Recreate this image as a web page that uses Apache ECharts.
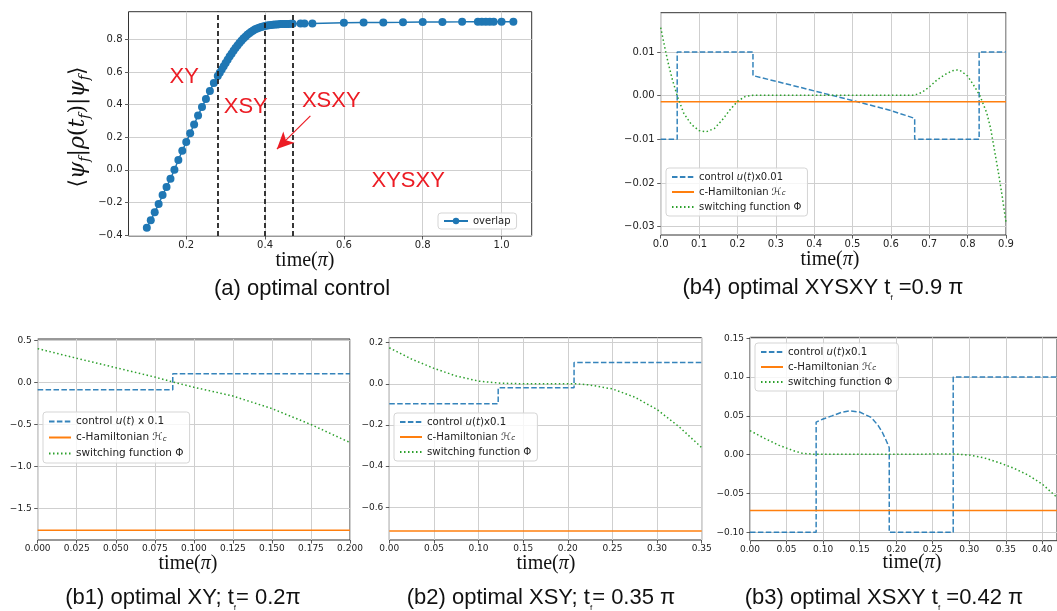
<!DOCTYPE html>
<html>
<head>
<meta charset="utf-8">
<title>optimal control</title>
<script src="https://cdn.jsdelivr.net/npm/echarts@6/dist/echarts.min.js"></script>
<style>
html, body { margin: 0; padding: 0; background: #fff; }
#main { width: 1057px; height: 611px; }
</style>
</head>
<body>
<div id="main"></div>
<script>
// (a) overlap <psi_f|rho(tf)|psi_f> against final time tf (units of pi)
var overlapT = [0.10, 0.11, 0.12, 0.13, 0.14, 0.15, 0.16, 0.17, 0.18, 0.19,
  0.20, 0.21, 0.22, 0.23, 0.24, 0.25, 0.26, 0.27, 0.28, 0.285,
  0.29, 0.295, 0.30, 0.305, 0.31, 0.315, 0.32, 0.325, 0.33, 0.335,
  0.34, 0.345, 0.35, 0.355, 0.36, 0.365, 0.37, 0.375, 0.38, 0.385,
  0.39, 0.395, 0.40, 0.405, 0.41, 0.415, 0.42, 0.425, 0.43, 0.435,
  0.44, 0.445, 0.45, 0.455, 0.46, 0.465, 0.47, 0.49, 0.50, 0.52,
  0.60, 0.65, 0.70, 0.75, 0.80, 0.85, 0.90, 0.94, 0.95, 0.96,
  0.97, 0.98, 1.00, 1.03]
var overlapVal = [-0.355, -0.31, -0.26, -0.21, -0.155, -0.105, -0.055, 0.0, 0.06, 0.117,
  0.17, 0.225, 0.278, 0.333, 0.385, 0.434, 0.484, 0.533, 0.575, 0.595,
  0.615, 0.635, 0.655, 0.675, 0.695, 0.712, 0.730, 0.748, 0.763, 0.778,
  0.792, 0.805, 0.817, 0.828, 0.838, 0.847, 0.855, 0.862, 0.867, 0.872,
  0.876, 0.879, 0.882, 0.885, 0.887, 0.889, 0.890, 0.891, 0.892, 0.893,
  0.894, 0.894, 0.895, 0.895, 0.895, 0.896, 0.896, 0.897, 0.897, 0.898,
  0.902, 0.903, 0.904, 0.905, 0.907, 0.907, 0.908, 0.909, 0.909, 0.909,
  0.909, 0.909, 0.909, 0.909]
// borders between the XY / XSY / XSXY / XYSXY regions
var switchTimes = [0.28, 0.40, 0.47]
var aXTicks = [0.2, 0.4, 0.6, 0.8, 1.0]
var aYTicks = [-0.4, -0.2, 0.0, 0.2, 0.4, 0.6, 0.8]

// (b1) XY, tf = 0.2 pi
var b1CtrlT = [0, 0.0865, 0.0865, 0.2]
var b1Ctrl = [-0.085, -0.085, 0.105, 0.105]
var b1HamT = [0, 0.2]
var b1Ham = [-1.762, -1.762]
var b1PhiT = [0, 0.025, 0.05, 0.075, 0.088, 0.1, 0.125, 0.15, 0.175, 0.2]
var b1Phi = [0.405, 0.29, 0.178, 0.066, 0.0, -0.055, -0.16, -0.31, -0.50, -0.715]
var b1XTicks = [0, 0.025, 0.05, 0.075, 0.1, 0.125, 0.15, 0.175, 0.2]
var b1YTicks = [-1.5, -1.0, -0.5, 0.0, 0.5]

// (b2) XSY, tf = 0.35 pi
var b2CtrlT = [0, 0.122, 0.122, 0.207, 0.207, 0.35]
var b2Ctrl = [-0.097, -0.097, -0.019, -0.019, 0.103, 0.103]
var b2HamT = [0, 0.35]
var b2Ham = [-0.715, -0.715]
var b2PhiT = [0, 0.025, 0.05, 0.075, 0.1, 0.125, 0.15, 0.2, 0.21, 0.225, 0.25, 0.275, 0.3, 0.325, 0.35]
var b2Phi = [0.175, 0.12, 0.075, 0.038, 0.013, 0.003, 0.0, 0.0, 0.0, -0.006, -0.025, -0.065, -0.125, -0.21, -0.31]
var b2XTicks = [0, 0.05, 0.1, 0.15, 0.2, 0.25, 0.3, 0.35]
var b2YTicks = [-0.6, -0.4, -0.2, 0.0, 0.2]

// (b3) XSXY, tf = 0.42 pi
var b3CtrlT = [0, 0.0905, 0.0905, 0.10, 0.112, 0.125, 0.137, 0.15, 0.166, 0.175, 0.181, 0.186, 0.1905, 0.1905, 0.278, 0.278, 0.42]
var b3Ctrl = [-0.1, -0.1, 0.042, 0.046, 0.050, 0.0545, 0.0565, 0.055, 0.048, 0.038, 0.029, 0.019, 0.009, -0.1, -0.1, 0.1, 0.1]
var b3HamT = [0, 0.42]
var b3Ham = [-0.072, -0.072]
var b3PhiT = [0, 0.02, 0.04, 0.05, 0.06, 0.072, 0.09, 0.2, 0.28, 0.30, 0.32, 0.34, 0.36, 0.38, 0.40, 0.42]
var b3Phi = [0.031, 0.021, 0.012, 0.0085, 0.005, 0.0017, 0.0005, 0.0005, 0.001, -0.0005, -0.004, -0.010, -0.017, -0.026, -0.038, -0.055]
var b3XTicks = [0, 0.05, 0.1, 0.15, 0.2, 0.25, 0.3, 0.35, 0.4]
var b3YTicks = [-0.10, -0.05, 0.0, 0.05, 0.10, 0.15]

// (b4) XYSXY, tf = 0.9 pi
var b4CtrlT = [0, 0.043, 0.043, 0.2405, 0.2405, 0.30, 0.40, 0.50, 0.60, 0.662, 0.662, 0.830, 0.830, 0.9]
var b4Ctrl = [-0.01, -0.01, 0.01, 0.01, 0.0046, 0.0033, 0.0011, -0.0011, -0.0034, -0.0052, -0.01, -0.01, 0.01, 0.01]
var b4HamT = [0, 0.9]
var b4Ham = [-0.0014, -0.0014]
var b4PhiT = [0, 0.01, 0.02, 0.03, 0.043, 0.06, 0.08, 0.10, 0.118, 0.14, 0.16, 0.18, 0.20, 0.22, 0.24, 0.30,
  0.66, 0.68, 0.70, 0.72, 0.74, 0.76, 0.77, 0.78, 0.80, 0.82, 0.832, 0.85, 0.86, 0.87, 0.88, 0.89, 0.90]
var b4Phi = [0.0156, 0.0113, 0.0073, 0.0038, 0.0, -0.0040, -0.0066, -0.0080, -0.0083, -0.0075, -0.0056, -0.0033, -0.0013, -0.0002, 0.0001, 0.0001,
  0.0001, 0.0007, 0.0020, 0.0036, 0.0048, 0.0057, 0.0059, 0.0058, 0.0045, 0.0018, 0.0, -0.0040, -0.0075, -0.0125, -0.0175, -0.0230, -0.0290]
var b4XTicks = [0, 0.1, 0.2, 0.3, 0.4, 0.5, 0.6, 0.7, 0.8, 0.9]
var b4YTicks = [-0.03, -0.02, -0.01, 0.0, 0.01]

var BLUE = '#1f77b4'
var ORANGE = '#ff7f0e'
var GREEN = '#2ca02c'
var RED = '#ec1c24'
var NAME_H = 'c-Hamiltonian ℋc'
var NAME_PHI = 'switching function Φ'

function zip (xs, ys) {
  return xs.map(function (x, i) { return [x, ys[i]] })
}

// tick label text the way matplotlib prints it (unicode minus)
function fmt (digits) {
  return function (v) {
    if (Math.abs(v) < 1e-9) v = 0
    var s = v.toFixed(digits)
    return s.charAt(0) === '-' ? '\u2212' + s.slice(1) : s
  }
}

function axis (grid, min, max, ticks, digits, size, isY) {
  return {
    type: 'value',
    gridIndex: grid,
    min: min,
    max: max,
    axisLine: {show: false, onZero: false},
    axisTick: {show: true, length: 3.5, customValues: ticks, lineStyle: {color: '#333', width: 0.8}},
    axisLabel: {
      customValues: ticks,
      formatter: fmt(digits),
      fontSize: size,
      fontFamily: 'DejaVu Sans',
      color: '#222',
      margin: isY ? 6 : 4
    },
    splitLine: {show: true, lineStyle: {color: '#cfcfcf', width: 1}}
  }
}

function grid (left, top, width, height) {
  return {left: left, top: top, width: width, height: height, show: true, borderColor: '#333', borderWidth: 1}
}

// the three curves of one (b) panel
function panelSeries (idx, ctrlName, ctrl, ham, phi) {
  var base = {type: 'line', xAxisIndex: idx, yAxisIndex: idx, symbol: 'none', animation: false, silent: true}
  return [
    Object.assign({}, base, {name: ctrlName, data: ctrl, color: BLUE, lineStyle: {color: BLUE, width: 1.5, type: [5.5, 2.4], opacity: 0.9}}),
    Object.assign({}, base, {name: NAME_H, data: ham, color: ORANGE, lineStyle: {color: ORANGE, width: 1.5}}),
    Object.assign({}, base, {name: NAME_PHI, data: phi, color: GREEN, lineStyle: {color: GREEN, width: 1.5, type: [1.5, 2.5]}})
  ]
}

function panelLegend (left, top, ctrlName, size) {
  return {
    left: left,
    top: top,
    orient: 'vertical',
    selectedMode: false,
    data: [ctrlName, NAME_H, NAME_PHI],
    itemWidth: 22,
    itemHeight: 10,
    itemGap: 5,
    padding: [4, 6, 4, 5],
    backgroundColor: 'rgba(255,255,255,0.8)',
    borderColor: '#d5d5d5',
    borderWidth: 1,
    borderRadius: 3,
    // line only, no marker in the key
    itemStyle: {opacity: 0},
    formatter: function (name) {
      return name.replace('u(t)', '{i|u}({i|t})').replace('ℋc', '{i|ℋ}{s|c}')
    },
    textStyle: {
      fontSize: size,
      fontFamily: 'DejaVu Sans',
      color: '#222',
      rich: {
        i: {fontSize: size, fontStyle: 'italic', fontFamily: 'DejaVu Sans', color: '#222'},
        s: {fontSize: size * 0.7, fontStyle: 'italic', fontFamily: 'DejaVu Sans', color: '#222', verticalAlign: 'bottom', lineHeight: size * 0.9}
      }
    }
  }
}

var captionRich = {
  n: {fontSize: 22, fontFamily: 'Liberation Sans', fill: '#111', lineHeight: 28},
  s: {fontSize: 8, fontFamily: 'Liberation Sans', fill: '#111', verticalAlign: 'bottom', lineHeight: 16}
}
var timeRich = {
  r: {fontSize: 20, fontFamily: 'Liberation Serif', fill: '#111'},
  p: {fontSize: 20, fontFamily: 'Liberation Serif', fontStyle: 'italic', fill: '#111'}
}

function label (x, y, text, rich, rotation) {
  return {
    type: 'text',
    x: x,
    y: y,
    rotation: rotation || 0,
    silent: true,
    style: {text: text, rich: rich, align: 'center', verticalAlign: 'middle', textAlign: 'center', textVerticalAlign: 'middle'}
  }
}

var chart = echarts.init(document.getElementById('main'), null, {renderer: 'canvas'})

chart.setOption({
  animation: false,
  backgroundColor: '#fff',
  grid: [
    grid(128.5, 11.7, 403.2, 224.3), // (a)
    grid(660.7, 12.7, 345.3, 222.3), // (b4)
    grid(37.7, 339, 312.3, 201), // (b1)
    grid(389.3, 337.7, 312.4, 202.3), // (b2)
    grid(750, 337.3, 312.5, 203.4) // (b3), runs past the right edge
  ],
  xAxis: [
    axis(0, 0.0535, 1.0765, aXTicks, 1, 10),
    axis(1, 0, 0.9, b4XTicks, 1, 10),
    axis(2, 0, 0.2, b1XTicks, 3, 9),
    axis(3, 0, 0.35, b2XTicks, 2, 9),
    axis(4, 0, 0.42, b3XTicks, 2, 9)
  ],
  yAxis: [
    axis(0, -0.406, 0.97, aYTicks, 1, 10, true),
    axis(1, -0.0319, 0.019, b4YTicks, 2, 10, true),
    axis(2, -1.877, 0.52, b1YTicks, 1, 9, true),
    axis(3, -0.759, 0.224, b2YTicks, 1, 9, true),
    axis(4, -0.1108, 0.1513, b3YTicks, 2, 9, true)
  ],
  legend: [
    {
      left: 438,
      top: 213,
      selectedMode: false,
      data: ['overlap'],
      itemWidth: 24,
      itemHeight: 8,
      padding: [3, 6, 3, 5],
      backgroundColor: 'rgba(255,255,255,0.8)',
      borderColor: '#d5d5d5',
      borderWidth: 1,
      borderRadius: 3,
      textStyle: {fontSize: 10, fontFamily: 'DejaVu Sans', color: '#222'}
    },
    panelLegend(666, 168, 'control u(t)x0.01', 10),
    panelLegend(43, 412, 'control u(t) x 0.1', 10.5),
    panelLegend(394, 413, 'control u(t)x0.1', 10.2),
    panelLegend(755, 343, 'control u(t)x0.1 ', 10.2)
  ],
  series: [
    {
      name: 'overlap',
      type: 'line',
      xAxisIndex: 0,
      yAxisIndex: 0,
      data: zip(overlapT, overlapVal),
      symbol: 'circle',
      symbolSize: 8,
      showAllSymbol: true,
      color: BLUE,
      itemStyle: {color: BLUE},
      lineStyle: {color: BLUE, width: 1.5},
      silent: true,
      markLine: {
        silent: true,
        symbol: ['none', 'none'],
        label: {show: false},
        data: switchTimes.map(function (t) {
          return {xAxis: t, lineStyle: {color: '#222', type: [5, 3], width: 1.8}}
        }).concat([[
          {coord: [0.515, 0.331], lineStyle: {color: RED, type: 'solid', width: 1.2}},
          {coord: [0.43, 0.127], symbol: 'arrow', symbolSize: [12, 17], lineStyle: {color: RED, type: 'solid', width: 1.2}, itemStyle: {color: RED}}
        ]])
      },
      markPoint: {
        silent: true,
        symbol: 'circle',
        symbolSize: 0,
        label: {show: true, position: 'inside', color: RED, fontSize: 22, fontFamily: 'Liberation Sans', formatter: '{b}'},
        data: [
          {name: 'XY', coord: [0.195, 0.571]},
          {name: 'XSY', coord: [0.351, 0.386]},
          {name: 'XSXY', coord: [0.568, 0.423]},
          {name: 'XYSXY', coord: [0.763, -0.067]}
        ]
      }
    }
  ].concat(
    panelSeries(1, 'control u(t)x0.01', zip(b4CtrlT, b4Ctrl), zip(b4HamT, b4Ham), zip(b4PhiT, b4Phi)),
    panelSeries(2, 'control u(t) x 0.1', zip(b1CtrlT, b1Ctrl), zip(b1HamT, b1Ham), zip(b1PhiT, b1Phi)),
    panelSeries(3, 'control u(t)x0.1', zip(b2CtrlT, b2Ctrl), zip(b2HamT, b2Ham), zip(b2PhiT, b2Phi)),
    panelSeries(4, 'control u(t)x0.1 ', zip(b3CtrlT, b3Ctrl), zip(b3HamT, b3Ham), zip(b3PhiT, b3Phi))
  ),
  graphic: [
    // y label of (a)
    label(78, 127, '{n|⟨}{i|ψ}{s|f}{n||}{i|ρ}{n|(}{i|t}{s|f}{n|)|}{i|ψ}{s|f}{n|⟩}', {
      n: {fontSize: 22, fontFamily: 'DejaVu Serif', fill: '#111', lineHeight: 28},
      i: {fontSize: 22, fontFamily: 'DejaVu Serif', fontStyle: 'italic', fill: '#111', lineHeight: 28},
      s: {fontSize: 14, fontFamily: 'DejaVu Serif', fontStyle: 'italic', fill: '#111', lineHeight: 14, verticalAlign: 'bottom'}
    }, Math.PI / 2),
    // x labels
    label(305, 261, '{r|time(}{p|π}{r|)}', timeRich),
    label(830, 260, '{r|time(}{p|π}{r|)}', timeRich),
    label(188, 564, '{r|time(}{p|π}{r|)}', timeRich),
    label(546, 564, '{r|time(}{p|π}{r|)}', timeRich),
    label(912, 563, '{r|time(}{p|π}{r|)}', timeRich),
    // captions
    label(302, 289, '{n|(a) optimal control}', captionRich),
    label(823, 288, '{n|(b4) optimal XYSXY t}{s|f}{n| =0.9 π}', captionRich),
    label(183, 598, '{n|(b1) optimal XY; t}{s|f}{n|= 0.2π}', captionRich),
    label(541, 598, '{n|(b2) optimal XSY; t}{s|f}{n|= 0.35 π}', captionRich),
    label(884, 598, '{n|(b3) optimal XSXY t}{s|f}{n| =0.42 π}', captionRich)
  ]
})
</script>
</body>
</html>
